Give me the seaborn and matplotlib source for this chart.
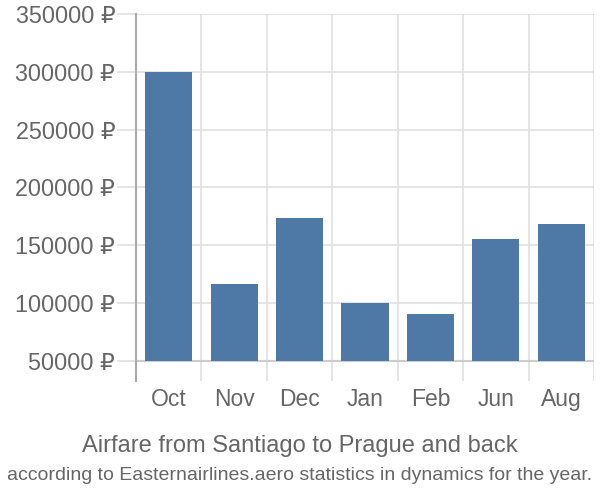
import matplotlib
matplotlib.use("Agg")
import matplotlib.pyplot as plt
import seaborn as sns
import pandas as pd

months = ["Oct", "Nov", "Dec", "Jan", "Feb", "Jun", "Aug"]
prices = [300000, 116600, 173600, 100100, 90600, 155200, 168400]
yticks = [50000, 100000, 150000, 200000, 250000, 300000, 350000]
ytick_labels = [f"{v} ₽" for v in yticks]
title = "Airfare from Santiago to Prague and back"
subtitle = "according to Easternairlines.aero statistics in dynamics for the year."
base = 50000

sns.set_theme(style="white")
plt.rcParams['font.family'] = ['Liberation Sans', 'DejaVu Sans']

df = pd.DataFrame({"month": months, "price": prices})

fig = plt.figure(figsize=(6, 5), dpi=100)
ax = fig.add_axes([136/600, 1-381/500, (594-136)/600, (381-14)/500])

sns.barplot(data=df, x="month", y="price", color="#4e79a7", saturation=1,
            width=0.72, ax=ax, zorder=3)
for p, v in zip(ax.patches, prices):
    p.set_y(base)
    p.set_height(v - base)
    p.set_edgecolor("none")

ax.set_xlim(-0.5, len(months) - 0.5)
ax.set_ylim(32700, 350000)
ax.set_yticks(yticks)
ax.set_yticklabels(ytick_labels)
ax.set_xticks(range(len(months)))
ax.set_xticklabels(months)
ax.set_xticks([i - 0.5 for i in range(len(months) + 1)], minor=True)
ax.grid(False)
ax.grid(True, which="minor", axis="x", color="#e0e0e0", lw=1.2, zorder=0)
ax.grid(True, which="major", axis="y", color="#e0e0e0", lw=1.2, zorder=0)
ax.axhline(base, color="#cccccc", lw=1.5, zorder=2)

for s in ["top", "right", "bottom"]:
    ax.spines[s].set_visible(False)
ax.spines["left"].set_color("#aaaaaa")
ax.spines["left"].set_linewidth(1.5)

ax.tick_params(axis="y", which="major", length=14, width=1.2, color="#e0e0e0",
               labelsize=16.8, labelcolor="#666666", pad=1, left=True)
ax.tick_params(axis="x", which="major", length=0, labelsize=16.5,
               labelcolor="#666666", pad=5)
ax.tick_params(axis="x", which="minor", length=0)
ax.set_xlabel("")
ax.set_ylabel("")

fig.text(0.5, 1-446/500, title, ha="center", va="center", fontsize=17, color="#666666")
fig.text(0.5, 1-475/500, subtitle, ha="center", va="center", fontsize=14,
         color="#666666")

fig.savefig("out.png", dpi=100)
